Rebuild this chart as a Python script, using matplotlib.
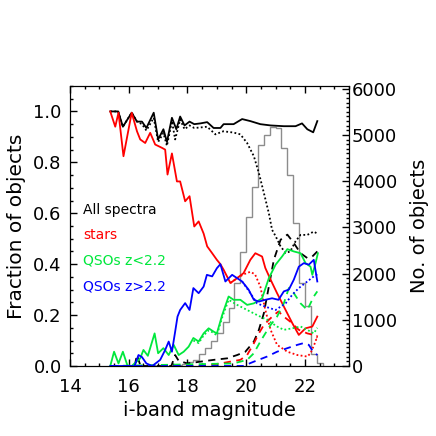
import numpy as np
import matplotlib
matplotlib.use("Agg")
import matplotlib.pyplot as plt
from matplotlib.ticker import MultipleLocator

plt.rcParams["font.family"] = ["DejaVu Sans"]

# --- histogram of number of objects (right axis) ---
hist_edges = [17.4, 17.6, 17.8, 18.0, 18.2, 18.4, 18.6, 18.8, 19.0, 19.2, 19.4, 19.6, 19.8,
              20.0, 20.2, 20.4, 20.6, 20.8, 21.0, 21.2, 21.4, 21.6, 21.8, 22.0, 22.2, 22.4, 22.6]
hist_counts = [10, 20, 40, 80, 140, 250, 390, 550, 720, 950, 1250, 1800, 2470,
               3230, 3880, 4790, 5000, 5180, 5160, 4720, 4140, 3100, 1800, 1300, 250, 60]

# --- all spectra ---
all_x = [15.37, 15.64, 15.8, 16.1, 16.28, 16.45, 16.6, 16.85, 17.0, 17.18, 17.3, 17.47, 17.62,
         17.75, 17.9, 18.07, 18.23, 18.44, 18.67, 18.89, 19.12, 19.23, 19.57, 19.86, 20.14,
         20.48, 20.83, 21.28, 21.68, 21.9, 22.08, 22.28, 22.42]
all_y = [1.0, 1.0, 0.94, 0.995, 0.96, 0.96, 0.935, 0.995, 0.89, 0.93, 0.88, 0.975, 0.93,
         0.98, 0.945, 0.96, 0.95, 0.953, 0.958, 0.935, 0.935, 0.95, 0.95, 0.97, 0.962,
         0.95, 0.945, 0.942, 0.942, 0.953, 0.93, 0.918, 0.962]
all_dot_x = [15.37, 15.64, 15.8, 16.1, 16.28, 16.45, 16.6, 16.85, 17.0, 17.18, 17.3, 17.47, 17.58,
             17.75, 17.9, 18.07, 18.23, 18.44, 18.67, 18.95, 19.22, 19.57, 19.8, 20.03, 20.26,
             20.43, 20.6, 20.77, 20.88, 21.0, 21.17, 21.34, 21.5, 21.68, 21.85, 22.08, 22.3, 22.42]
all_dot_y = [1.0, 1.0, 0.94, 0.995, 0.96, 0.95, 0.925, 0.975, 0.88, 0.915, 0.865, 0.962, 0.89,
             0.968, 0.93, 0.945, 0.935, 0.937, 0.94, 0.91, 0.922, 0.917, 0.91, 0.876, 0.824,
             0.758, 0.68, 0.60, 0.535, 0.51, 0.47, 0.444, 0.45, 0.49, 0.515, 0.515, 0.528, 0.52]
all_dash_x = [15.37, 16.2, 16.28, 16.4, 17.45, 17.58, 17.7, 18.0, 18.44, 18.89, 19.35, 19.69,
              19.97, 20.26, 20.43, 20.6, 20.77, 20.94, 21.17, 21.4, 21.62, 21.85, 22.08, 22.25, 22.42]
all_dash_y = [0, 0, 0.043, 0, 0, 0.043, 0.02, 0.01, 0.017, 0.024, 0.03, 0.043,
              0.056, 0.096, 0.142, 0.207, 0.312, 0.417, 0.496, 0.516, 0.483, 0.443, 0.424, 0.43, 0.45]

# --- stars ---
star_x = [15.37, 15.54, 15.65, 15.82, 16.1, 16.28, 16.39, 16.56, 16.73, 16.9, 17.13, 17.24, 17.32,
          17.47, 17.64, 17.75, 17.92, 18.07, 18.23, 18.38, 18.55, 18.67, 18.84, 19.0, 19.12,
          19.23, 19.46, 19.69, 19.91, 20.14, 20.31, 20.54, 20.65, 20.83, 21.05, 21.34, 21.57,
          21.79, 22.02, 22.25, 22.42]
star_y = [1.0, 0.94, 0.995, 0.824, 0.995, 0.922, 0.89, 0.876, 0.916, 0.87, 0.857, 0.85, 0.752,
          0.835, 0.725, 0.725, 0.647, 0.667, 0.548, 0.568, 0.52, 0.47, 0.443, 0.417, 0.40,
          0.378, 0.326, 0.345, 0.365, 0.417, 0.443, 0.43, 0.385, 0.339, 0.286, 0.22, 0.168,
          0.122, 0.148, 0.155, 0.194]
star_dot_x = [19.46, 19.69, 19.91, 20.14, 20.3, 20.48, 20.65, 20.83, 21.05, 21.4, 21.74, 22.08,
              22.19, 22.36, 22.42]
star_dot_y = [0.326, 0.345, 0.36, 0.37, 0.36, 0.312, 0.22, 0.142, 0.083, 0.056, 0.043, 0.037,
              0.05, 0.096, 0.12]
star_dash_x = [15.37, 18.44, 19.12, 19.8, 20.03, 20.26, 20.43, 20.6, 20.77, 20.94, 21.1, 21.28,
               21.5, 21.79, 22.08, 22.3, 22.42]
star_dash_y = [0, 0.0, 0.01, 0.024, 0.043, 0.089, 0.128, 0.161, 0.181, 0.2, 0.214, 0.194,
               0.174, 0.142, 0.128, 0.122, 0.11]

# --- QSOs z<2.2 ---
lowz_x = [15.37, 15.5, 15.65, 15.8, 15.96, 16.1, 16.39, 16.5, 16.65, 16.88, 17.0, 17.18, 17.36,
          17.53, 17.7, 17.87, 18.04, 18.2, 18.38, 18.55, 18.72, 18.89, 19.0, 19.18, 19.4, 19.57,
          19.8, 20.03, 20.26, 20.54, 20.77, 21.0, 21.22, 21.4, 21.62, 21.85, 22.02, 22.19,
          22.25, 22.36, 22.44]
lowz_y = [0, 0.056, 0.01, 0.056, 0.0, 0.0, 0.03, 0.063, 0.04, 0.128, 0.05, 0.07, 0.043,
          0.083, 0.043, 0.056, 0.076, 0.11, 0.096, 0.128, 0.148, 0.135, 0.128, 0.2, 0.273, 0.26,
          0.26, 0.24, 0.246, 0.266, 0.345, 0.398, 0.43, 0.459, 0.45, 0.443, 0.404, 0.39,
          0.358, 0.404, 0.443]
lowz_dot_x = [18.2, 18.38, 18.55, 18.72, 18.89, 19.0, 19.18, 19.4, 19.69, 20.03, 20.37, 20.71,
              21.05, 21.28, 21.57, 21.85, 22.08, 22.3, 22.42]
lowz_dot_y = [0.1, 0.09, 0.12, 0.14, 0.13, 0.12, 0.19, 0.26, 0.24, 0.22, 0.20, 0.181,
              0.155, 0.142, 0.148, 0.155, 0.142, 0.128, 0.15]
lowz_dash_x = [15.37, 19.57, 20.03, 20.26, 20.48, 20.65, 20.83, 21.05, 21.28, 21.45, 21.62,
               21.85, 22.08, 22.3, 22.42]
lowz_dash_y = [0, 0.01, 0.024, 0.05, 0.096, 0.128, 0.161, 0.194, 0.246, 0.306, 0.286,
               0.246, 0.22, 0.273, 0.293]

# --- QSOs z>2.2 ---
highz_x = [15.37, 16.2, 16.33, 16.45, 16.6, 16.8, 17.07, 17.24, 17.36, 17.47, 17.58, 17.66,
           17.75, 17.92, 18.07, 18.2, 18.38, 18.55, 18.66, 18.84, 19.0, 19.12, 19.29, 19.52,
           19.69, 19.86, 20.08, 20.26, 20.43, 20.65, 20.88, 21.1, 21.28, 21.45, 21.62, 21.79,
           21.96, 22.13, 22.3, 22.42]
highz_y = [0, 0, 0.043, 0.035, 0.01, 0.0, 0.024, 0.063, 0.096, 0.056, 0.135, 0.194,
           0.22, 0.247, 0.22, 0.306, 0.286, 0.312, 0.358, 0.352, 0.384, 0.40, 0.332, 0.358,
           0.345, 0.332, 0.30, 0.26, 0.253, 0.26, 0.266, 0.26, 0.293, 0.30, 0.339, 0.39,
           0.404, 0.398, 0.417, 0.332]
highz_dot_x = [19.86, 20.14, 20.37, 20.65, 21.0, 21.34, 21.57, 21.79, 22.08, 22.3, 22.42]
highz_dot_y = [0.332, 0.286, 0.246, 0.233, 0.22, 0.246, 0.28, 0.306, 0.332, 0.352, 0.36]
highz_dash_x = [15.37, 19.9, 20.26, 20.71, 21.05, 21.4, 21.74, 21.96, 22.13, 22.28, 22.42]
highz_dash_y = [0, 0, 0.017, 0.037, 0.056, 0.07, 0.083, 0.09, 0.083, 0.056, 0.043]

labels = ["All spectra", "stars", "QSOs z<2.2", "QSOs z>2.2"]
colors = ["black", "#ff0000", "#00e83c", "#0000ff"]

fig = plt.figure(figsize=(4.36, 4.36), dpi=100)
ax = fig.add_axes([0.1606, 0.1606, 0.6399, 0.6422])
ax2 = ax.twinx()

# histogram behind the fractions
ax2.stairs(hist_counts, hist_edges, color="0.55", lw=1.0)
ax2.set_ylim(0, 6060)
ax2.yaxis.set_major_locator(MultipleLocator(1000))
ax2.yaxis.set_minor_locator(MultipleLocator(100))
ax2.set_ylabel("No. of objects", fontsize=14, labelpad=9)
ax.set_zorder(ax2.get_zorder() + 1)
ax.patch.set_visible(False)

dot = (0, (1, 1.3))
dash = (0, (4, 3))
lw = 1.3
series = [
    (all_x, all_y, all_dot_x, all_dot_y, all_dash_x, all_dash_y),
    (star_x, star_y, star_dot_x, star_dot_y, star_dash_x, star_dash_y),
    (lowz_x, lowz_y, lowz_dot_x, lowz_dot_y, lowz_dash_x, lowz_dash_y),
    (highz_x, highz_y, highz_dot_x, highz_dot_y, highz_dash_x, highz_dash_y),
]
for (sx, sy, dx, dy, hx, hy), c in zip(series, colors):
    ax.plot(sx, sy, color=c, lw=lw)
    ax.plot(dx, dy, color=c, lw=lw, linestyle=dot)
    ax.plot(hx, hy, color=c, lw=lw, linestyle=dash)

for i, (lab, c) in enumerate(zip(labels, colors)):
    ax.text(14.44, 0.614 - i * 0.1, lab, color=c, fontsize=10, va="center", ha="left")

ax.set_xlim(14, 23.5)
ax.set_ylim(0, 1.1)
ax.xaxis.set_major_locator(MultipleLocator(2))
ax.xaxis.set_minor_locator(MultipleLocator(0.5))
ax.yaxis.set_major_locator(MultipleLocator(0.2))
ax.yaxis.set_minor_locator(MultipleLocator(0.05))
ax.yaxis.set_major_formatter(matplotlib.ticker.FormatStrFormatter("%.1f"))
ax.set_xlabel("i-band magnitude", fontsize=14, labelpad=3)
ax.set_ylabel("Fraction of objects", fontsize=14.5, labelpad=5)

for a in (ax, ax2):
    a.tick_params(which="both", direction="in", labelsize=13)
    a.tick_params(which="major", length=5, width=1)
    a.tick_params(which="minor", length=2.5, width=1)
ax.tick_params(which="both", top=True, right=False)
ax.tick_params(axis="x", pad=9)
ax.tick_params(axis="y", pad=6)
ax2.tick_params(which="both", left=False, pad=2)

fig.savefig("out.png", dpi=100)
